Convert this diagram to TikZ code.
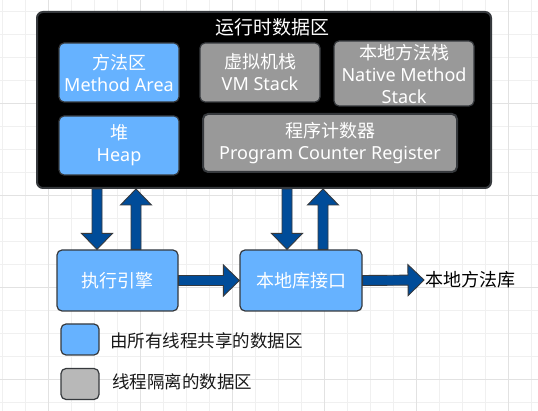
\documentclass[tikz,border=0pt]{standalone}
\usepackage{fontspec}
\setmainfont{Noto Sans}
\newfontfamily\cjk{Noto Sans CJK SC}
\usetikzlibrary{calc}
\definecolor{blueF}{HTML}{66B2FF}
\definecolor{grayF}{HTML}{999999}
\definecolor{legGray}{HTML}{B8B8B8}
\definecolor{arrF}{HTML}{004C99}
\definecolor{edgeC}{HTML}{36393D}
\definecolor{gridMinor}{HTML}{F0F0F0}
\definecolor{gridMajor}{HTML}{E2E2E2}
\newcommand\blockarr[2]{%
  \coordinate (bh) at ($(#2)!16pt!(#1)$);
  \draw[blockarrow] ($(#1)!5pt!90:(#2)$) -- ($(bh)!5pt!90:(#2)$) -- ($(bh)!15.5pt!90:(#2)$) -- (#2)
    -- ($(bh)!15.5pt!-90:(#2)$) -- ($(bh)!5pt!-90:(#2)$) -- ($(#1)!5pt!-90:(#2)$) -- cycle;}
\begin{document}
\begin{tikzpicture}[x=1pt,y=-1pt,
  boxbase/.style={draw=edgeC, line width=1.2pt, rounded corners=5pt, inner sep=0pt,
    align=center, text=white, font=\fontsize{18}{22}\selectfont},
  bluebox/.style={boxbase, fill=blueF},
  graybox/.style={boxbase, fill=grayF},
  legbox/.style={draw=edgeC, line width=1.2pt, rounded corners=5pt, minimum width=38pt, minimum height=31pt},
  legtext/.style={anchor=west, inner sep=0pt, font=\cjk\fontsize{17.5}{20}\selectfont, text=black!90},
  blockarrow/.style={fill=arrF, draw=edgeC, line width=0.9pt, line join=miter}]
\useasboundingbox (0,0) rectangle (538,411);
\fill[white] (0,0) rectangle (538,411);
% grid
\foreach \x in {2,25,...,531} \draw[gridMinor, line width=0.8pt] (\x,0) -- (\x,411);
\foreach \y in {11,34,...,402} \draw[gridMinor, line width=0.8pt] (0,\y) -- (538,\y);
\foreach \x in {48,140,...,508} \draw[gridMajor, line width=0.8pt] (\x,0) -- (\x,411);
\foreach \y in {103,195,287,379} \draw[gridMajor, line width=0.8pt] (0,\y) -- (538,\y);
% runtime data area
\node[draw=edgeC, fill=black, line width=2pt, rounded corners=6pt, minimum width=454pt, minimum height=176pt, inner sep=0pt] (rt) at (264,100) {};
\node[text=white, font=\cjk\fontsize{19}{22}\selectfont, inner sep=0pt] (title) at (272,27) {运行时数据区};
\node[bluebox, minimum width=120pt, minimum height=59pt] (ma) at (119,72.5) {{\cjk 方法区}\\Method Area};
\node[graybox, minimum width=120pt, minimum height=59pt] (vm) at (260,72.5) {{\cjk 虚拟机栈}\\VM Stack};
\node[graybox, minimum width=140pt, minimum height=65pt] (nm) at (404,73.5) {{\cjk 本地方法栈}\\Native Method\\Stack};
\node[bluebox, minimum width=120pt, minimum height=59pt] (hp) at (119,145.5) {{\cjk 堆}\\Heap};
\node[graybox, line width=2pt, minimum width=254pt, minimum height=58pt] (pc) at (330,143) {{\cjk 程序计数器}\\Program Counter Register};
% bottom boxes
\node[bluebox, minimum width=121pt, minimum height=61pt] (ee) at (117.5,280.5) {\cjk 执行引擎};
\node[bluebox, minimum width=122pt, minimum height=61pt] (ni) at (301,280.5) {\cjk 本地库接口};
\node[anchor=west, inner sep=0pt, font=\cjk\fontsize{18}{20}\selectfont, text=black] (lib) at (425,280) {本地方法库};
% arrows
\coordinate (d1e) at ([xshift=-20.5pt]ee.north);
\coordinate (d1s) at (rt.south -| d1e);
\coordinate (u1s) at ([xshift=18.5pt]ee.north);
\coordinate (u1e) at (rt.south -| u1s);
\coordinate (d2e) at ([xshift=-14pt]ni.north);
\coordinate (d2s) at (rt.south -| d2e);
\coordinate (u2s) at ([xshift=22pt]ni.north);
\coordinate (u2e) at (rt.south -| u2s);
\coordinate (ho) at ([xshift=-1pt]lib.west);
\blockarr{d1s}{d1e}
\blockarr{u1s}{u1e}
\blockarr{d2s}{d2e}
\blockarr{u2s}{u2e}
\blockarr{ee.east}{ni.west}
\blockarr{ni.east}{ho}
% legend
\node[legbox, fill=blueF] (lb1) at (80,339.5) {};
\node[legtext] (lt1) at (110,341) {由所有线程共享的数据区};
\node[legbox, fill=legGray] (lb2) at (80,384) {};
\node[legtext] (lt2) at (112,382) {线程隔离的数据区};
\end{tikzpicture}
\end{document}
